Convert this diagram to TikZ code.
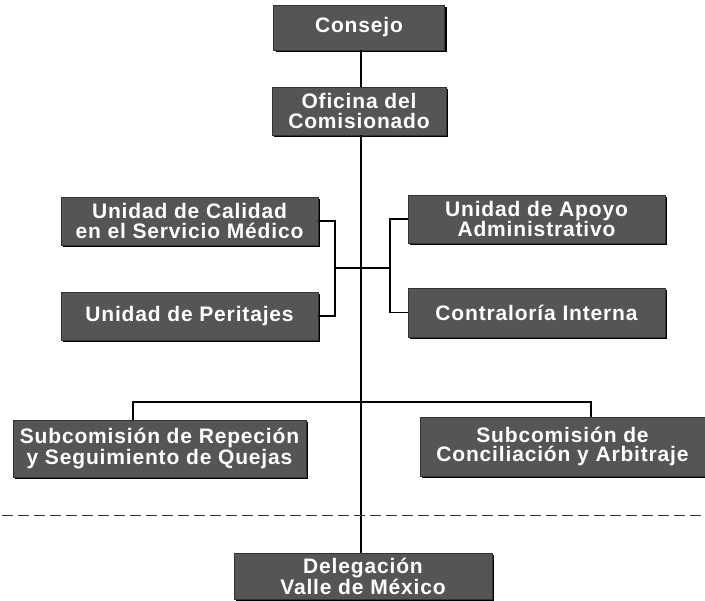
\documentclass[tikz,border=0pt]{standalone}
\usepackage{fontspec}
\newfontfamily\boxfont[LetterSpace=4]{Liberation Sans Bold}
\usetikzlibrary{shadows}
\definecolor{boxgray}{HTML}{555555}
\begin{document}
\begin{tikzpicture}[x=1pt,y=-1pt,
  orgbox/.style={fill=boxgray, draw=black!80, line width=0.6pt, text=white,
    font=\boxfont\fontsize{21}{19.5}\selectfont, align=center, inner sep=0pt,
    drop shadow={shadow xshift=2pt, shadow yshift=-2pt, fill=black, opacity=1}},
  conn/.style={draw=black, line width=1.4pt},
  sep/.style={draw=black!80, line width=0.9pt, dash pattern=on 11pt off 5pt}]
\useasboundingbox (0,0) rectangle (705,601);
\fill[white] (0,0) rectangle (705,601);

\node[orgbox, minimum width=171pt, minimum height=45pt] (consejo) at (359,27.5) {Consejo};
\node[orgbox, minimum width=174pt, minimum height=48pt] (oficina) at (359,111) {Oficina del\\Comisionado};
\node[orgbox, minimum width=257pt, minimum height=48pt] (calidad) at (189.5,221) {Unidad de Calidad\\en el Servicio Médico};
\node[orgbox, minimum width=257pt, minimum height=48pt] (peritajes) at (189.5,316) {Unidad de Peritajes};
\node[orgbox, minimum width=257pt, minimum height=48pt] (apoyo) at (536.5,219) {Unidad de Apoyo\\Administrativo};
\node[orgbox, minimum width=257pt, minimum height=49pt] (contra) at (536.5,312.5) {Contraloría Interna};
\node[orgbox, minimum width=293pt, minimum height=57pt] (subrep) at (159.5,448.5) {Subcomisión de Repeción\\y Seguimiento de Quejas};
\node[orgbox, minimum width=285pt, minimum height=59pt] (subcon) at (562.5,446.5) {Subcomisión de\\Conciliación y Arbitraje};
\node[orgbox, minimum width=258pt, minimum height=46pt] (deleg) at (363,576) {Delegación\\Valle de México};

\coordinate (m) at (361,0);
\coordinate (lb) at (335,268);
\coordinate (rb) at (390,268);
\coordinate (bl) at (133,402);
\coordinate (br) at (591,402);
\coordinate (dl) at (2,515);
\coordinate (dr) at (705,515);

\draw[conn] (consejo.south -| m) -- (oficina.north -| m);
\draw[conn] (oficina.south -| m) -- (deleg.north -| m);
\draw[conn] (calidad.east) -| (lb) |- (peritajes.east);
\draw[conn] (lb) -- (rb);
\draw[conn] (apoyo.west) -| (rb) |- (contra.west);
\draw[conn] (subrep.north -| bl) -- (bl) -- (br) -- (subcon.north -| br);
\draw[sep] (dl) -- (dr);
\end{tikzpicture}
\end{document}
